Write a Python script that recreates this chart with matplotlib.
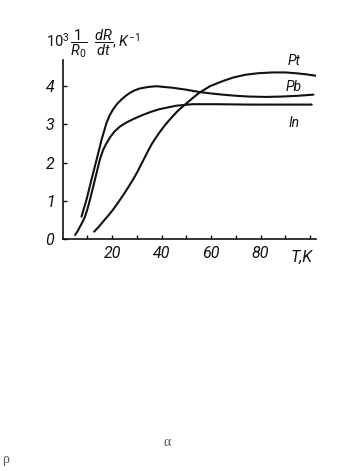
import matplotlib
matplotlib.use("Agg")
import matplotlib.pyplot as plt
from matplotlib.ticker import FixedLocator

# values (T in K, 10^3 (1/R0) dR/dT in K^-1)
t_pt = [12.7, 14.5, 16.3, 18.3, 20.3, 22.4, 24.4, 26.4, 28.4, 30.0, 31.5, 33.0,
        34.5, 36.0, 37.6, 39.2, 40.8, 42.6, 44.4, 46.4, 48.5, 50.5, 52.5, 55.2,
        59.5, 64.5, 69.0, 73.9, 79.0, 84.6, 90.0, 94.0, 98.5, 102.7]
v_pt = [0.20, 0.32, 0.46, 0.61, 0.77, 0.96, 1.15, 1.35, 1.56, 1.74, 1.93, 2.12,
        2.31, 2.49, 2.65, 2.80, 2.94, 3.08, 3.21, 3.35, 3.47, 3.58, 3.69, 3.83,
        4.00, 4.13, 4.23, 4.30, 4.34, 4.36, 4.36, 4.34, 4.31, 4.27]

t_pb = [7.6, 9.6, 11.6, 13.7, 15.7, 17.7, 19.0, 20.3, 22.0, 23.7, 25.3, 27.0,
        29.0, 31.1, 34.5, 37.8, 41.0, 44.4, 49.8, 55.1, 60.0, 64.5, 70.0, 75.2,
        82.0, 88.6, 95.0, 101.3]
v_pb = [0.59, 1.03, 1.55, 2.08, 2.60, 3.04, 3.24, 3.39, 3.54, 3.65, 3.74, 3.82,
        3.89, 3.94, 3.98, 4.00, 3.98, 3.96, 3.91, 3.85, 3.81, 3.78, 3.75, 3.73,
        3.72, 3.73, 3.75, 3.78]

t_in = [5.0, 6.0, 7.0, 8.0, 9.0, 10.0, 11.0, 13.0, 15.0, 16.3, 17.7, 19.3, 21.0,
        23.2, 25.7, 28.8, 32.4, 35.6, 39.1, 45.8, 52.5, 61.8, 75.0, 90.0, 100.6]
v_in = [0.11, 0.21, 0.33, 0.45, 0.59, 0.79, 1.03, 1.55, 2.08, 2.33, 2.51, 2.68,
        2.82, 2.95, 3.05, 3.15, 3.25, 3.33, 3.40, 3.49, 3.53, 3.53, 3.52, 3.52,
        3.52]

curve_names = ["Pt", "Pb", "In"]
label_y = [4.65, 3.99, 3.04]
x_labels = [20, 40, 60, 80]
x_minor = [10, 30, 50, 70, 90, 100]
y_labels = [0, 1, 2, 3, 4]

plt.rcParams['font.family'] = ['Roboto', 'DejaVu Sans']
plt.rcParams['mathtext.fontset'] = 'custom'
plt.rcParams['mathtext.rm'] = 'Roboto'
plt.rcParams['mathtext.it'] = 'Roboto:italic'

fig = plt.figure(figsize=(3.37, 4.71), dpi=100)
ax = fig.add_axes([0.186, 0.492, 0.753, 0.381])

ink = "#111111"
for tt, vv in ((t_pt, v_pt), (t_pb, v_pb), (t_in, v_in)):
    ax.plot(tt, vv, color=ink, lw=1.5, solid_capstyle='round',
            solid_joinstyle='round')

for name, yy in zip(curve_names, label_y):
    ax.text(93.3, yy, name, fontsize=10, style='italic', color=ink,
            ha='center', va='center')

ax.set_xlim(0, 102.5)
ax.set_ylim(0, 4.69)

ax.spines['top'].set_visible(False)
ax.spines['right'].set_visible(False)
for s in ('left', 'bottom'):
    ax.spines[s].set_linewidth(1.2)
    ax.spines[s].set_color(ink)

ax.xaxis.set_major_locator(FixedLocator(x_labels))
ax.xaxis.set_minor_locator(FixedLocator(x_minor))
ax.set_xticklabels([str(v) for v in x_labels], fontsize=11.5, style='italic')
ax.yaxis.set_major_locator(FixedLocator(y_labels))
ax.set_yticklabels([str(v) for v in y_labels], fontsize=11.5, style='italic')
ax.tick_params(axis='x', which='both', direction='in', length=3, width=1,
               pad=5, colors=ink)
ax.tick_params(axis='y', direction='in', length=3, width=1, pad=6, colors=ink)

ax.text(96.5, -0.47, "T,K", fontsize=11.5, style='italic', color=ink,
        ha='center', va='center')
fig.text(46 / 337, 1 - 44 / 471,
         r"$10^3\,\dfrac{1}{R_0}\;\;\dfrac{dR}{dt},K^{-1}$",
         fontsize=10.5, color=ink, ha='left', va='center')

# stray symbols at the bottom of the scanned page
fig.text(167 / 337, 1 - 443 / 471, "α", fontsize=10, color="#555555",
         family='Liberation Serif', ha='center', va='center')
fig.text(6 / 337, 1 - 459 / 471, "ρ", fontsize=10, color="#555555",
         family='Liberation Serif', ha='center', va='center')

fig.savefig("out.png", dpi=100, facecolor='white')
